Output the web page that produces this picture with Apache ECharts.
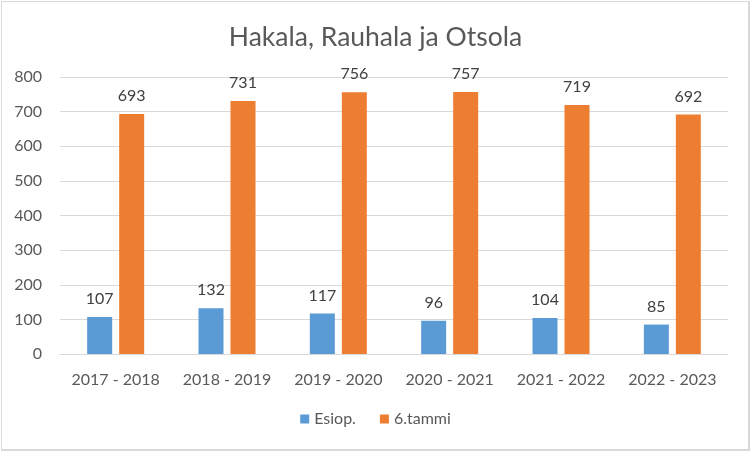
<!DOCTYPE html>
<html>
<head>
<meta charset="utf-8">
<script src="https://cdn.jsdelivr.net/npm/echarts@6/dist/echarts.min.js"></script>
<style>
html,body{margin:0;padding:0;background:#fff;}
#frame{position:absolute;left:1px;top:1px;width:746px;height:447px;border:1px solid #d9d9d9;border-right:2px solid #d9d9d9;border-bottom:2px solid #d9d9d9;}
#chart{position:absolute;left:0;top:0;width:751px;height:452px;}
</style>
</head>
<body>
<div id="frame"></div>
<div id="chart"></div>
<script>
const categories = ['2017 - 2018','2018 - 2019','2019 - 2020','2020 - 2021','2021 - 2022','2022 - 2023'];
const esiop = [107,132,117,96,104,85];
const tammi = [693,731,756,757,719,692];
const seriesNames = ['Esiop.','6.tammi'];
const font = 'Lato, "Open Sans", sans-serif';
const chart = echarts.init(document.getElementById('chart'), null, {renderer:'canvas'});
const labelCfg = {show:true, position:'top', distance:10, color:'#404040', fontSize:16, fontFamily:font};
chart.setOption({
  animation:false,
  backgroundColor:'transparent',
  title:{text:'Hakala, Rauhala ja Otsola', left:'center', top:19,
    textStyle:{color:'#595959', fontSize:26.5, fontWeight:'normal', fontFamily:font}},
  legend:{bottom:20, left:'center', itemWidth:9, itemHeight:9, itemGap:24,
    icon:'rect', textStyle:{color:'#595959', fontSize:16, fontFamily:font}, data:seriesNames},
  grid:{left:60, right:23, top:77, bottom:98},
  xAxis:{type:'category', data:categories,
    axisLine:{lineStyle:{color:'#d9d9d9', width:1}}, axisTick:{show:false},
    axisLabel:{color:'#595959', fontSize:16, fontFamily:font, margin:18, interval:0}},
  yAxis:{type:'value', min:0, max:800, interval:100,
    axisLine:{show:false}, axisTick:{show:false},
    splitLine:{lineStyle:{color:'#d9d9d9', width:1}},
    axisLabel:{color:'#595959', fontSize:16, fontFamily:font, margin:18}},
  series:[
    {name:seriesNames[0], type:'bar', data:esiop, barWidth:25, barGap:'28%', itemStyle:{color:'#5b9bd5'}, label:labelCfg},
    {name:seriesNames[1], type:'bar', data:tammi, barWidth:25, barGap:'28%', itemStyle:{color:'#ed7d31'}, label:labelCfg}
  ]
});
</script>
</body>
</html>
